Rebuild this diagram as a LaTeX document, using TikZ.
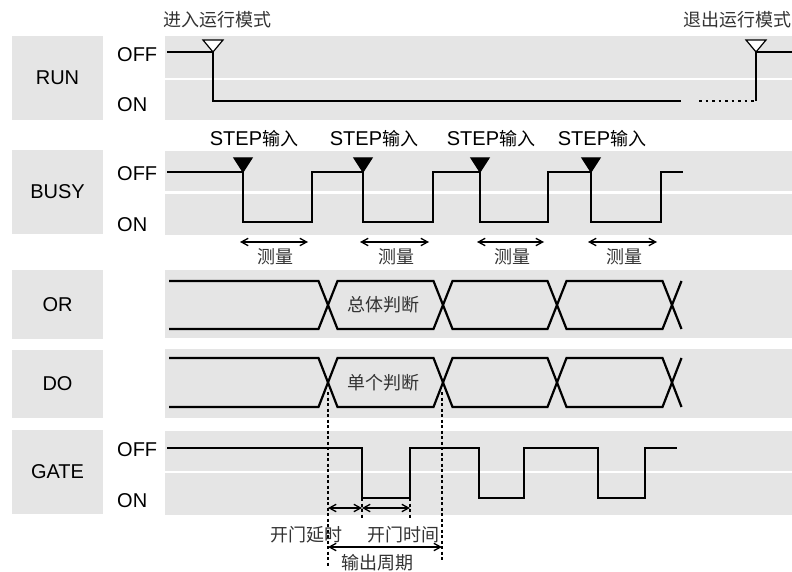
\documentclass[tikz,border=0pt]{standalone}
\usepackage{fontspec}
\setmainfont{Liberation Sans}
\newfontfamily\cjk{Noto Sans CJK SC}
\usetikzlibrary{arrows.meta}

\begin{document}
\begin{tikzpicture}[
  x=1pt, y=-1pt,
  font=\fontsize{20}{23}\selectfont,
  namebox/.style={fill=black!10, minimum width=91pt, inner sep=0pt},
  lvl/.style={anchor=west, inner sep=0pt},
  cn/.style={font=\cjk\fontsize{18}{21}\selectfont, text=black!80, inner sep=1pt},
  sig/.style={line width=2.2pt},
  bus/.style={line width=2.2pt},
  guide/.style={line width=1.2pt, dash pattern=on 3pt off 2.5pt},
  dim/.style={{Straight Barb[length=2.4mm,width=2.6mm]}-{Straight Barb[length=2.4mm,width=2.6mm]}, line width=1.3pt},
  trig/.style={line width=1.2pt, line join=miter}
]
\useasboundingbox (0,0) rectangle (792,572);

% row names
\foreach \n/\y/\h/\t in {run/78/84/RUN, busy/192/84/BUSY, or/304.5/69/OR, do/384/68/DO, gate/472/84/GATE}
  \node[namebox, minimum height=\h pt] (\n) at (57.5,\y) {\t};

% signal bands
\foreach \t/\m/\b in {36/79/120, 151/192.5/235, 431/472/515} {
  \fill[black!10] (165,\t) rectangle (792,\b);
  \draw[white, line width=2.5pt] (165,\m) -- (792,\m);
}
\fill[black!10] (165,270) rectangle (792,338);
\fill[black!10] (165,349) rectangle (792,418);

% OFF / ON levels
\foreach \n/\a/\b in {run/55/105, busy/174/225, gate/450/501} {
  \node[lvl] (\n-off) at (117,\a) {OFF};
  \node[lvl] (\n-on) at (117,\b) {ON};
}

% RUN
\node[cn] (enter) at (217,20) {进入运行模式};
\node[cn] (leave) at (737,20) {退出运行模式};
\draw[sig] (167,52) -| (213,101) -- (681,101);
\draw[sig, dash pattern=on 2.5pt off 4pt] (699,101) -- (754,101);
\draw[sig] (756,101) |- (792,52);
\foreach \x in {213, 756}
  \draw[trig, fill=white] (\x-10,40) -- (\x+10,40) -- (\x,52) -- cycle;

% BUSY
\draw[sig] (167,172) -| (243,222) -| (312,172) -| (363,222) -| (433,172)
  -| (480,222) -| (548,172) -| (591,222) -| (661,172) -- (683,172);
\foreach \f/\r [count=\i] in {243/312, 363/433, 480/548, 591/661} {
  \draw[trig, fill=black] (\f-9,158) -- (\f+9,158) -- (\f,172) -- cycle;
  \node (step\i) at (\f+11,139) {STEP{\cjk\fontsize{18}{21}\selectfont 输入}};
  \draw[dim] (\f-3,242) -- (\r-4,242);
  \node[cn] (meas\i) at ({(\f+\r)/2-2},257) {测量};
}

% OR / DO
\foreach \t/\b in {281/329, 358/407} {
  \draw[bus] (169,\t) -- (318.5,\t) -- (337.5,\b) -- (433.5,\b) -- (452.5,\t)
    -- (547.5,\t) -- (566.5,\b) -- (662.5,\b) -- (681.5,\t);
  \draw[bus] (169,\b) -- (318.5,\b) -- (337.5,\t) -- (433.5,\t) -- (452.5,\b)
    -- (547.5,\b) -- (566.5,\t) -- (662.5,\t) -- (681.5,\b);
}
\node[cn] (total) at (383,305) {总体判断};
\node[cn] (single) at (383,383) {单个判断};

% GATE
\draw[sig] (167,448) -| (362,498) -| (410,448) -| (479,498) -| (524,448)
  -| (598,498) -| (645,448) -- (677,448);

\coordinate (c0) at (328,392);
\coordinate (c1) at (442,392);
\draw[guide] (c0) -- (328,567);
\draw[guide] (c1) -- (442,562);
\draw[guide] (362,498) -- (362,518);
\draw[guide] (410,498) -- (410,518);
\coordinate (g0) at (328,508);
\coordinate (g1) at (362,508);
\coordinate (g2) at (410,508);
\coordinate (p0) at (328,547);
\coordinate (p1) at (442,547);
\draw[dim] (g0) -- (g1);
\draw[dim] (g1) -- (g2);
\draw[dim] (p0) -- (p1);
\node[cn] (delay) at (306,535) {开门延时};
\node[cn] (open) at (403,535) {开门时间};
\node[cn] (period) at (377,563) {输出周期};
\end{tikzpicture}
\end{document}
